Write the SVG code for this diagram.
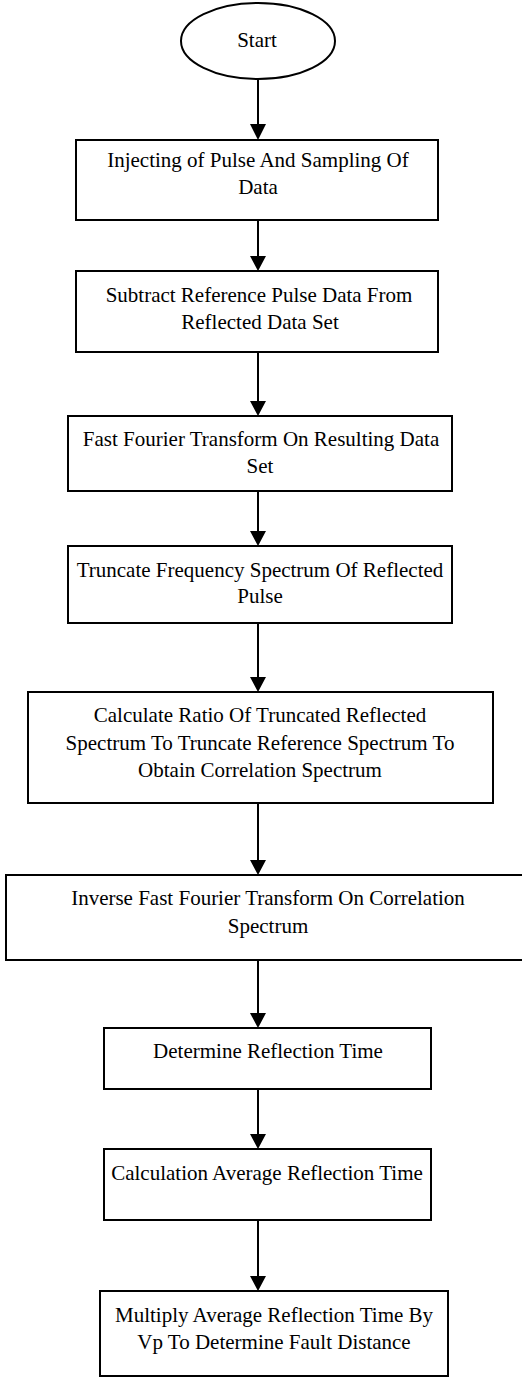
<svg xmlns="http://www.w3.org/2000/svg" width="522" height="1378" viewBox="0 0 522 1378">
<defs>
<style>
.box{fill:#fff;stroke:#000;stroke-width:2}
.t{font-family:"Liberation Serif","Times New Roman",serif;font-size:21px;fill:#000;text-anchor:middle}
.c{stroke:#000;stroke-width:2;fill:none}
.h{fill:#000}
</style>
</defs>
<rect width="522" height="1378" fill="#fff"/>
<g id="connectors">
<line class="c" x1="258" y1="79" x2="258" y2="124"/><path class="h" d="M250,124 L266,124 L258,140 Z"/>
<line class="c" x1="258" y1="220" x2="258" y2="256"/><path class="h" d="M250,256 L266,256 L258,271 Z"/>
<line class="c" x1="258" y1="352" x2="258" y2="401"/><path class="h" d="M250,401 L266,401 L258,416 Z"/>
<line class="c" x1="258" y1="491" x2="258" y2="531"/><path class="h" d="M250,531 L266,531 L258,546 Z"/>
<line class="c" x1="258" y1="623" x2="258" y2="677"/><path class="h" d="M250,677 L266,677 L258,692 Z"/>
<line class="c" x1="258" y1="803" x2="258" y2="860"/><path class="h" d="M250,860 L266,860 L258,875 Z"/>
<line class="c" x1="258" y1="960" x2="258" y2="1013"/><path class="h" d="M250,1013 L266,1013 L258,1028 Z"/>
<line class="c" x1="258" y1="1089" x2="258" y2="1134"/><path class="h" d="M250,1134 L266,1134 L258,1149 Z"/>
<line class="c" x1="258" y1="1220" x2="258" y2="1276"/><path class="h" d="M250,1276 L266,1276 L258,1291 Z"/>
</g>
<g id="start">
<ellipse class="box" cx="258" cy="41" rx="77" ry="38"/>
<text class="t" x="257" y="47">Start</text>
</g>
<g id="n1">
<rect class="box" x="76" y="140" width="362" height="80"/>
<text class="t" x="258" y="167">Injecting of Pulse And Sampling Of</text>
<text class="t" x="258" y="194">Data</text>
</g>
<g id="n2">
<rect class="box" x="76" y="271" width="362" height="81"/>
<text class="t" x="259" y="302">Subtract Reference Pulse Data From</text>
<text class="t" x="260" y="329">Reflected Data Set</text>
</g>
<g id="n3">
<rect class="box" x="68" y="416" width="384" height="75"/>
<text class="t" x="261" y="446">Fast Fourier Transform On Resulting Data</text>
<text class="t" x="260" y="473">Set</text>
</g>
<g id="n4">
<rect class="box" x="68" y="546" width="384" height="77"/>
<text class="t" x="260" y="577">Truncate Frequency Spectrum Of Reflected</text>
<text class="t" x="260" y="603">Pulse</text>
</g>
<g id="n5">
<rect class="box" x="28" y="692" width="465" height="111"/>
<text class="t" x="260" y="722">Calculate Ratio Of Truncated Reflected</text>
<text class="t" x="260" y="750">Spectrum To Truncate Reference Spectrum To</text>
<text class="t" x="260" y="777">Obtain Correlation Spectrum</text>
</g>
<g id="n6">
<rect class="box" x="6" y="875" width="524" height="85"/>
<text class="t" x="268" y="905">Inverse Fast Fourier Transform On Correlation</text>
<text class="t" x="268" y="933">Spectrum</text>
</g>
<g id="n7">
<rect class="box" x="104" y="1028" width="327" height="61"/>
<text class="t" x="268" y="1058">Determine Reflection Time</text>
</g>
<g id="n8">
<rect class="box" x="104" y="1149" width="327" height="71"/>
<text class="t" x="267" y="1180">Calculation Average Reflection Time</text>
</g>
<g id="n9">
<rect class="box" x="100" y="1291" width="348" height="85"/>
<text class="t" x="274" y="1322">Multiply Average Reflection Time By</text>
<text class="t" x="274" y="1349">Vp To Determine Fault Distance</text>
</g>
</svg>
